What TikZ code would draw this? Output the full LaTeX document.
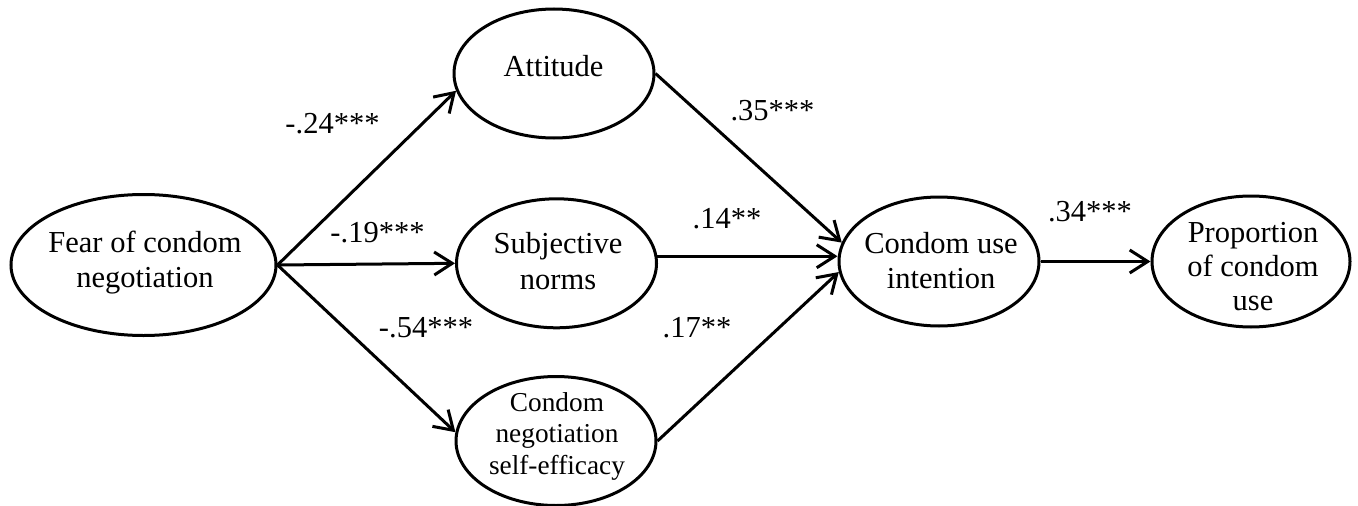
\documentclass[tikz,border=0pt]{standalone}
\usepackage{fontspec}
\setmainfont{Liberation Serif}
\usetikzlibrary{arrows.meta,shapes.geometric}
\begin{document}
\begin{tikzpicture}[x=1pt,y=-1pt,
  oval/.style={draw, ellipse, line width=3pt, inner sep=0pt, minimum width=200pt, minimum height=129pt},
  lbl/.style={font=\fontsize{30.5}{35}\selectfont, align=center, inner sep=0pt},
  smalllbl/.style={font=\fontsize{27.3}{31.7}\selectfont, align=center, inner sep=0pt},
  coef/.style={font=\fontsize{30.5}{35}\selectfont, inner sep=0pt},
  conn/.style={line width=3pt, -{Straight Barb[length=18pt,width=23pt]}}]
\useasboundingbox (0,0) rectangle (1358,506);
% ellipses
\node[oval, minimum width=265pt, minimum height=141pt] (fear) at (143.5,265) {};
\node[oval] (att) at (554,73.5) {};
\node[oval] (subj) at (556.5,263.3) {};
\node[oval] (self) at (556,441) {};
\node[oval] (int) at (939,261.5) {};
\node[oval, minimum width=198pt, minimum height=131pt] (prop) at (1251,261.5) {};
% texts
\node[lbl] (tfear) at (145,262.4) {Fear of condom\\negotiation};
\node[lbl] (tatt) at (553.5,65.6) {Attitude};
\node[lbl, font=\fontsize{30.5}{36.5}\selectfont] (tsubj) at (558,261.3) {Subjective\\norms};
\node[smalllbl] (tself) at (557,436.4) {Condom\\negotiation\\self-efficacy};
\node[lbl] (tint) at (941,260.1) {Condom use\\intention};
\node[lbl, font=\fontsize{30.5}{34}\selectfont] (tprop) at (1253,266.5) {Proportion\\of condom\\use};
% connectors
\draw[conn] (fear.east) -- (att.190);
\draw[conn] (fear.east) -- (subj.west);
\draw[conn] (fear.east) -- (self.175);
\draw[conn] (att.east) -- (int.169);
\draw[conn] (subj.4) -- (subj.4 -| int.west);
\draw[conn] (self.east) -- (int.186);
\draw[conn] (int.east) -- (prop.west);
% coefficients
\node[coef] (c1) at (332.5,123.5) {-.24***};
\node[coef] (c2) at (377.5,233) {-.19***};
\node[coef] (c3) at (426,328) {-.54***};
\node[coef] (c4) at (772.5,111) {.35***};
\node[coef] (c5) at (727,219) {.14**};
\node[coef] (c6) at (697,328) {.17**};
\node[coef] (c7) at (1090,212) {.34***};
\end{tikzpicture}
\end{document}
